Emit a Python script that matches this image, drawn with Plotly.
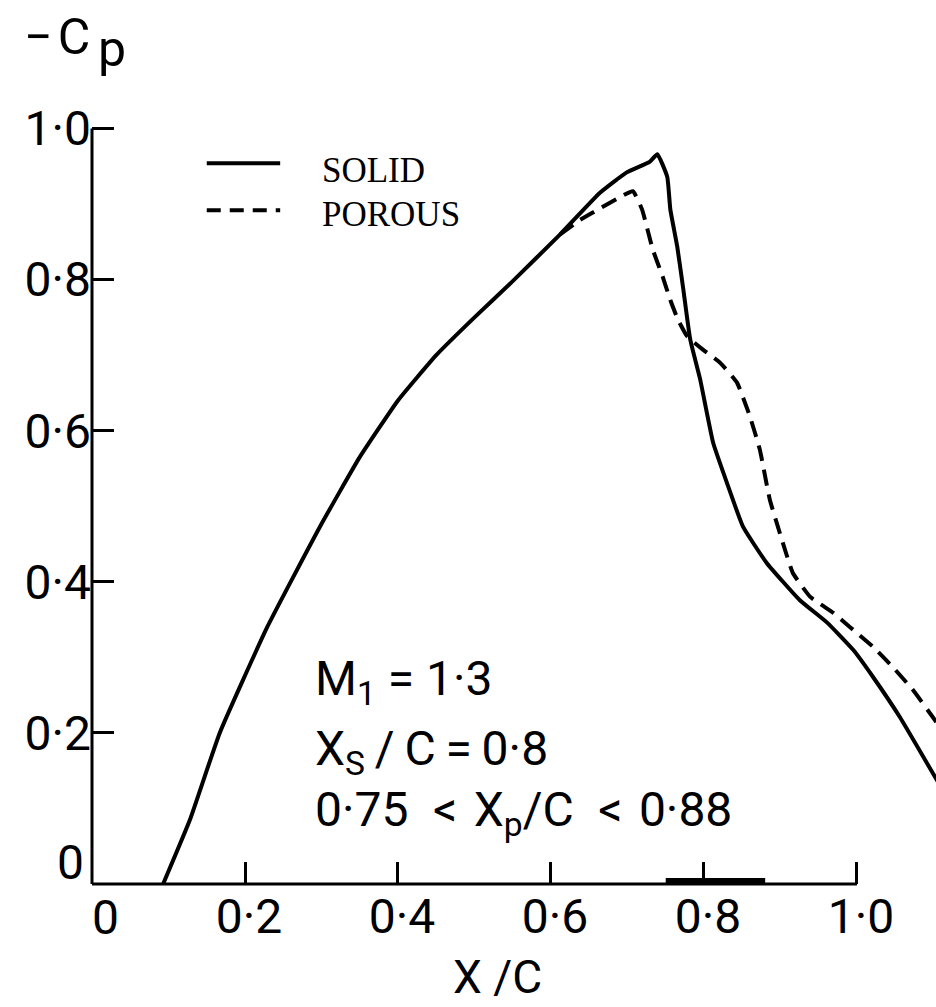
import plotly.graph_objects as go

# ---- data ----
solid_x = [0.093, 0.128, 0.167, 0.229, 0.298, 0.350, 0.400, 0.450, 0.500, 0.550, 0.612,
           0.664, 0.699, 0.729, 0.739, 0.752, 0.756, 0.765, 0.773, 0.782, 0.795, 0.812,
           0.830, 0.851, 0.882, 0.925, 0.961, 0.995, 1.021, 1.056, 1.099, 1.11]
solid_y = [0.000, 0.085, 0.200, 0.340, 0.473, 0.565, 0.640, 0.700, 0.750, 0.798, 0.860,
           0.915, 0.942, 0.956, 0.966, 0.936, 0.893, 0.844, 0.787, 0.721, 0.668, 0.584,
           0.531, 0.473, 0.425, 0.376, 0.346, 0.310, 0.274, 0.221, 0.147, 0.128]

porous_x = [0.612, 0.638, 0.655, 0.690, 0.707, 0.719, 0.733, 0.746, 0.756, 0.766,
            0.778, 0.799, 0.821, 0.843, 0.860, 0.873, 0.886, 0.903, 0.916, 0.939, 0.969,
            0.991, 1.021, 1.047, 1.073, 1.099, 1.11]
porous_y = [0.860, 0.879, 0.889, 0.909, 0.917, 0.893, 0.840, 0.804, 0.773, 0.747,
            0.725, 0.707, 0.690, 0.664, 0.619, 0.575, 0.509, 0.452, 0.412, 0.380, 0.359,
            0.340, 0.314, 0.287, 0.257, 0.221, 0.205]

porous_region = [0.75, 0.88]

tick_vals = [0.2, 0.4, 0.6, 0.8, 1.0]
x_tick_text = ["0·2", "0·4", "0·6", "0·8", "1·0"]
y_tick_text = ["0·2", "0·4", "0·6", "0·8", "1·0"]

FONT = "Roboto"
SERIF = "Liberation Serif"

fig = go.Figure()

fig.add_trace(go.Scatter(x=porous_x, y=porous_y, mode="lines", name="POROUS",
                         line=dict(color="black", width=4, dash="16px,9px", shape="spline", smoothing=0.4),
                         showlegend=False))
fig.add_trace(go.Scatter(x=solid_x, y=solid_y, mode="lines", name="SOLID",
                         line=dict(color="black", width=4, shape="spline", smoothing=0.4),
                         showlegend=False))

# axis lines (end at 1.0 like the original)
fig.add_shape(type="line", x0=0, y0=0, x1=1.0, y1=0, xref="x", yref="paper",
              line=dict(color="black", width=3))
fig.add_shape(type="line", x0=0, y0=0, x1=0, y1=1.0, xref="paper", yref="y",
              line=dict(color="black", width=3))
# porous wall region marked on the axis
fig.add_shape(type="line", x0=porous_region[0], x1=porous_region[1], y0=0.003, y1=0.003,
              xref="x", yref="paper", line=dict(color="black", width=7))

# legend drawn by hand
fig.add_shape(type="line", x0=0.150, x1=0.246, y0=0.954, y1=0.954, xref="x", yref="y",
              line=dict(color="black", width=4))
fig.add_shape(type="line", x0=0.150, x1=0.246, y0=0.892, y1=0.892, xref="x", yref="y",
              line=dict(color="black", width=4, dash="14px,9px"))
fig.add_annotation(x=0.298, y=0.945, xref="x", yref="y", text="SOLID", showarrow=False,
                   xanchor="left", yanchor="middle", font=dict(family=SERIF, size=35, color="black"))
fig.add_annotation(x=0.298, y=0.886, xref="x", yref="y", text="POROUS", showarrow=False,
                   xanchor="left", yanchor="middle", font=dict(family=SERIF, size=35, color="black"))

# parameter text
txt_font = dict(family=FONT, size=48, color="black")
fig.add_annotation(x=0.289, y=0.268, xref="x", yref="y", text="M<sub>1</sub> = 1·3",
                   showarrow=False, xanchor="left", yanchor="middle", font=txt_font)
fig.add_annotation(x=0.289, y=0.175, xref="x", yref="y",
                   text="X<sub>S</sub>\u2009/\u2009C\u2009=\u20090·8",
                   showarrow=False, xanchor="left", yanchor="middle", font=txt_font)
fig.add_annotation(x=0.289, y=0.095, xref="x", yref="y",
                   text="0·75\u2002&lt;\u2004X<sub>p</sub>/C\u2002&lt;\u20040·88",
                   showarrow=False, xanchor="left", yanchor="middle", font=txt_font)

# "0" labels at the origin and axis titles
lab_font = dict(family=FONT, size=48, color="black")
fig.add_annotation(x=0.017, y=0, xref="x", yref="y", text="0", showarrow=False,
                   xanchor="center", yanchor="top", yshift=-3, font=lab_font)
fig.add_annotation(x=0, y=0.028, xref="x", yref="y", text="0", showarrow=False,
                   xanchor="right", yanchor="middle", xshift=-6, font=lab_font)
fig.add_annotation(x=0.480, y=-0.1120, xref="paper", yref="paper", text="X /C", showarrow=False,
                   xanchor="center", yanchor="middle", font=dict(family=FONT, size=46, color="black"))
# y-axis title "-Cp" (large subscript as in the original)
fig.add_annotation(x=-0.0829, y=1.0192, xref="paper", yref="paper", text="−\u200aC",
                   showarrow=False, xanchor="left", yanchor="middle",
                   font=dict(family=FONT, size=50, color="black"))
fig.add_annotation(x=0.0047, y=1.0048, xref="paper", yref="paper", text="p",
                   showarrow=False, xanchor="left", yanchor="middle",
                   font=dict(family=FONT, size=50, color="black"))

fig.update_xaxes(range=[0, 1.1033], tickvals=tick_vals, ticktext=x_tick_text,
                 ticks="inside", ticklen=22, tickwidth=2.5, tickcolor="black",
                 showline=False, showgrid=False, zeroline=False,
                 tickfont=lab_font, ticklabelshift=4)
fig.update_yaxes(range=[0, 1.1], tickvals=tick_vals, ticktext=y_tick_text,
                 ticks="inside", ticklen=22, tickwidth=2.5, tickcolor="black",
                 showline=False, showgrid=False, zeroline=False,
                 tickfont=lab_font)

fig.update_layout(width=936, height=1007, autosize=False,
                  margin=dict(l=92, r=0, t=53, b=123),
                  plot_bgcolor="white", paper_bgcolor="white", showlegend=False)

fig.write_html("out.html")
